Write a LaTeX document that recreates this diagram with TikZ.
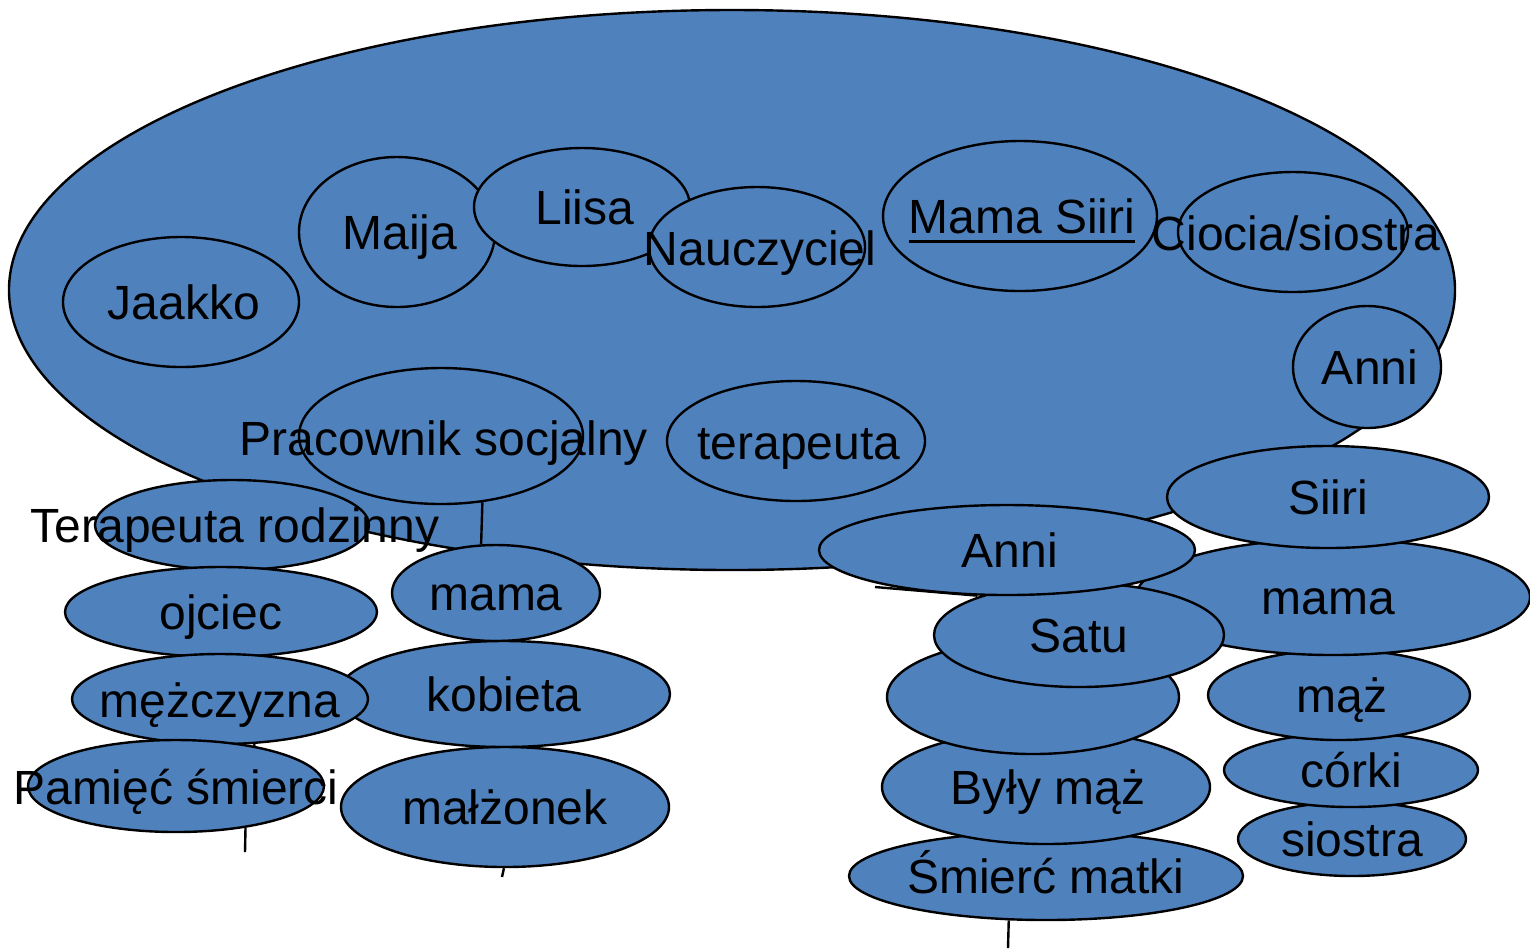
\documentclass[tikz,border=0pt]{standalone}
\usepackage{fontspec}
\setmainfont{Liberation Sans}
\usetikzlibrary{shapes.geometric}
\definecolor{blobblue}{RGB}{79,129,189}
\newcommand\tx[1]{\raisebox{-0.36em}[0pt][0pt]{\makebox[0pt]{#1}}}
\newcommand\myul[1]{\setbox0\hbox{#1}\rlap{\rule[-5pt]{\wd0}{1.5pt}}\box0}
\tikzset{
  blob/.style 2 args={ellipse, draw=black, line width=1.2pt, fill=blobblue,
    inner sep=0pt, minimum width=#1pt, minimum height=#2pt},
  conn/.style={draw=black, line width=1.2pt}
}
\begin{document}
\begin{tikzpicture}[x=0.5pt,y=-0.5pt,font=\fontsize{24}{28}\selectfont]
\useasboundingbox (0,0) rectangle (1530,950);
% big ellipse
\node[blob={723}{280}] (big) at (732,290) {};
% top row
\node[blob={118}{65}] (jaakko) at (181,302) {\tx{\hspace{3pt}Jaakko}};
\node[blob={98}{75}] (maija) at (397,232) {\tx{\hspace{3pt}Maija}};
\node[blob={108}{59}] (liisa) at (582,207) {\tx{\hspace{3pt}Liisa}};
\node[blob={108}{60}] (naucz) at (757,247) {\raisebox{-1.5pt}{\tx{\hspace{3pt}Nauczyciel}}};
\node[blob={137}{75}] (mamas) at (1020,216) {\tx{\hspace{2pt}\myul{Mama Siiri}}};
\node[blob={115}{60}] (ciocia) at (1293,232) {\raisebox{-1.5pt}{\tx{\hspace{3pt}Ciocia/siostra}}};
\node[blob={74}{61}] (anniU) at (1367,367) {\tx{\hspace{3pt}Anni}};
\node[blob={142}{68}] (prac) at (441,436) {\raisebox{-2pt}{\tx{\hspace{3pt}Pracownik socjalny}}};
\node[blob={129}{60}] (terap) at (796,441) {\raisebox{-1pt}{\tx{\hspace{3pt}terapeuta}}};
% middle-left column
\node[blob={104}{48}] (mamaL) at (496,593) {\tx{mama}};
\node[blob={166}{53}] (kobieta) at (504,694) {\tx{kobieta}};
\node[blob={164}{60}] (malz) at (505,807) {\tx{małżonek}};
% left column
\node[blob={137}{45}] (terR) at (232,525) {\tx{\hspace{3pt}Terapeuta rodzinny}};
\node[blob={156}{45}] (ojciec) at (221,612) {\tx{ojciec}};
\node[blob={148}{45}] (mezcz) at (220,699) {\raisebox{-1pt}{\tx{mężczyzna}}};
\node[blob={148}{46}] (pamiec) at (176,786) {\raisebox{-1.5pt}{\tx{\hspace{2pt}Pamięć śmierci\hspace{2pt}}}};
% right column
\node[blob={114}{37}] (siostra) at (1352,839) {\tx{siostra}};
\node[blob={127}{37}] (corki) at (1351,770) {\tx{córki}};
\node[blob={131}{45}] (maz) at (1339,695) {\tx{\hspace{3pt}mąż}};
\node[blob={197}{58}] (mamaR) at (1333,597) {\tx{\hspace{-4.5pt}mama}};
\node[blob={161}{51}] (siiri) at (1328,497) {\tx{Siiri}};
% middle-right column
\node[blob={197}{44}] (smierc) at (1046,876) {\tx{Śmierć matki}};
\node[blob={164}{57}] (byly) at (1046,787) {\tx{\hspace{2pt}Były mąż}};
\node[blob={146}{57}] (blank) at (1033,697) {};
\node[blob={145}{52}] (satu) at (1079,635) {\tx{Satu}};
\node[blob={188}{45}] (anniL) at (1007,550) {\tx{\hspace{3pt}Anni}};
% connectors
\coordinate (p1) at (245,852);
\coordinate (m1) at (502,877);
\coordinate (s1) at (1008,948);
\coordinate (a1) at (875,587);
\draw[conn] (prac.-58) -- (mamaL.107);
\draw[conn] (mezcz.-53) -- (pamiec.27);
\draw[conn] (pamiec.-31.5) -- (p1);
\draw[conn] (malz.-91) -- (m1);
\draw[conn] (smierc.-130) -- (s1);
\draw[conn] (a1) -- (anniL.-123);
\end{tikzpicture}
\end{document}
